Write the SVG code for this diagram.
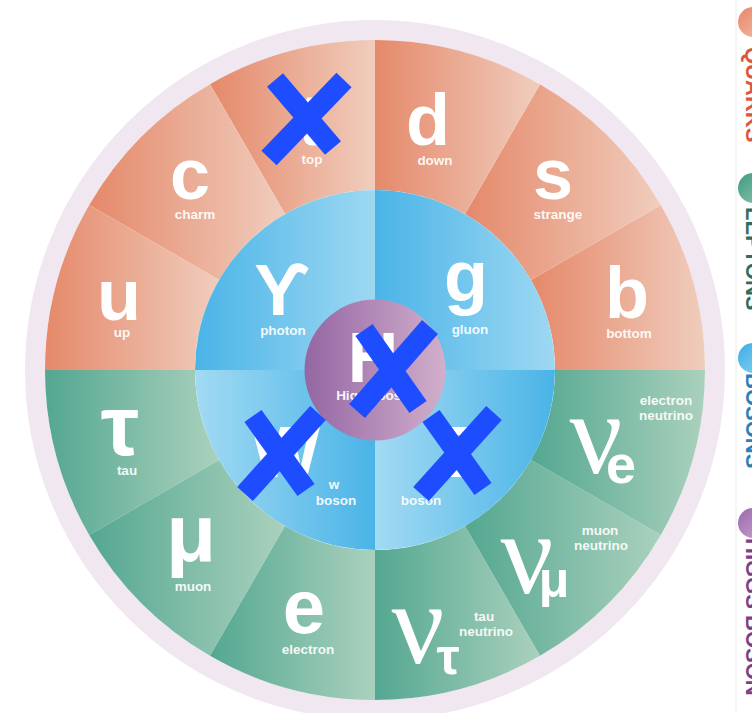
<svg xmlns="http://www.w3.org/2000/svg" width="752" height="713" viewBox="0 0 752 713">
  <defs>
    <linearGradient id="gO" x1="0" y1="0" x2="1" y2="0">
      <stop offset="0" stop-color="#E5896A"/>
      <stop offset="1" stop-color="#F0CDBD"/>
    </linearGradient>
    <linearGradient id="gG" x1="0" y1="0" x2="1" y2="0">
      <stop offset="0" stop-color="#54A791"/>
      <stop offset="1" stop-color="#AAD1BD"/>
    </linearGradient>
    <linearGradient id="gB" x1="0" y1="0" x2="1" y2="0">
      <stop offset="0" stop-color="#4AB4E7"/>
      <stop offset="1" stop-color="#9ED8F2"/>
    </linearGradient>
    <linearGradient id="gBr" x1="0" y1="0" x2="1" y2="0">
      <stop offset="0" stop-color="#A2DAF3"/>
      <stop offset="1" stop-color="#4AB4E7"/>
    </linearGradient>
    <linearGradient id="gP" x1="0" y1="0" x2="1" y2="0">
      <stop offset="0" stop-color="#9466A3"/>
      <stop offset="1" stop-color="#D2AFCC"/>
    </linearGradient>
    <linearGradient id="lO" x1="0" y1="0" x2="1" y2="1">
      <stop offset="0" stop-color="#E8866A"/>
      <stop offset="1" stop-color="#F2BDA6"/>
    </linearGradient>
    <linearGradient id="lG" x1="0" y1="0" x2="1" y2="1">
      <stop offset="0" stop-color="#3E9A80"/>
      <stop offset="1" stop-color="#8FC6B0"/>
    </linearGradient>
    <linearGradient id="lB" x1="0" y1="0" x2="1" y2="1">
      <stop offset="0" stop-color="#38AEE6"/>
      <stop offset="1" stop-color="#90D3F1"/>
    </linearGradient>
    <linearGradient id="lP" x1="0" y1="0" x2="1" y2="1">
      <stop offset="0" stop-color="#9A68AE"/>
      <stop offset="1" stop-color="#C9A5CD"/>
    </linearGradient>
  </defs>
  <style>
    .sym { font-family: 'Liberation Sans', Arial, sans-serif; font-weight: bold; font-size: 72px; fill: #ffffff; text-anchor: middle; }
    .lab { font-family: 'Liberation Sans', Arial, sans-serif; font-weight: bold; font-size: 13.5px; fill: #ffffff; fill-opacity: 0.92; text-anchor: middle; }
    .nu { font-family: 'Liberation Serif', 'Times New Roman', serif; font-size: 117px; fill: #ffffff; text-anchor: middle; }
    .sub { font-family: 'Liberation Sans', Arial, sans-serif; font-weight: bold; fill: #ffffff; text-anchor: middle; }
    .q { fill: url(#gO); }
    .l { fill: url(#gG); }
    .x { stroke: #1E4DFF; stroke-width: 21; stroke-linecap: butt; fill: none; }
    .leg { font-family: 'Liberation Sans', Arial, sans-serif; font-weight: bold; font-size: 22px; }
  </style>
  <rect width="752" height="713" fill="#ffffff"/>
  <line x1="736" y1="0" x2="736" y2="713" stroke="#F1F1F1" stroke-width="1.5"/>

  <!-- outer lavender ring -->
  <circle id="ring" cx="375" cy="370" r="340" fill="none" stroke="#F0E7F1" stroke-width="20"/>

  <!-- quarks -->
  <g id="quark-b"><path class="q" d="M705,370 A330,330 0 0 0 660.8,205 L530.9,280 A180,180 0 0 1 555,370 Z"/>
    <text class="sym" x="627" y="318">b</text><text class="lab" x="629" y="338">bottom</text></g>
  <g id="quark-s"><path class="q" d="M660.8,205 A330,330 0 0 0 540,84.2 L465,214.1 A180,180 0 0 1 530.9,280 Z"/>
    <text class="sym" x="553" y="199">s</text><text class="lab" x="558" y="219">strange</text></g>
  <g id="quark-d"><path class="q" d="M540,84.2 A330,330 0 0 0 375,40 L375,190 A180,180 0 0 1 465,214.1 Z"/>
    <text class="sym" x="428" y="145">d</text><text class="lab" x="435" y="165">down</text></g>
  <g id="quark-t"><path class="q" d="M375,40 A330,330 0 0 0 210,84.2 L285,214.1 A180,180 0 0 1 375,190 Z"/>
    <text class="sym" x="310" y="145">t</text><text class="lab" x="312" y="164">top</text></g>
  <g id="quark-c"><path class="q" d="M210,84.2 A330,330 0 0 0 89.2,205 L219.1,280 A180,180 0 0 1 285,214.1 Z"/>
    <text class="sym" x="190" y="199">c</text><text class="lab" x="195" y="219">charm</text></g>
  <g id="quark-u"><path class="q" d="M89.2,205 A330,330 0 0 0 45,370 L195,370 A180,180 0 0 1 219.1,280 Z"/>
    <text class="sym" x="119" y="320">u</text><text class="lab" x="122" y="337">up</text></g>

  <!-- leptons -->
  <g id="lepton-tau"><path class="l" d="M45,370 A330,330 0 0 0 89.2,535 L219.1,460 A180,180 0 0 1 195,370 Z"/>
    <text class="sym" x="120" y="455" style="font-size:86px">τ</text><text class="lab" x="127" y="475">tau</text></g>
  <g id="lepton-mu"><path class="l" d="M89.2,535 A330,330 0 0 0 210,655.8 L285,525.9 A180,180 0 0 1 219.1,460 Z"/>
    <text class="sym" x="191" y="561" style="font-size:82px">μ</text><text class="lab" x="193" y="591">muon</text></g>
  <g id="lepton-e"><path class="l" d="M210,655.8 A330,330 0 0 0 375,700 L375,550 A180,180 0 0 1 285,525.9 Z"/>
    <text class="sym" x="304" y="633" style="font-size:76px">e</text><text class="lab" x="308" y="654">electron</text></g>
  <g id="lepton-nutau"><path class="l" d="M375,700 A330,330 0 0 0 540,655.8 L465,525.9 A180,180 0 0 1 375,550 Z"/>
    <text class="nu" x="418" y="663">ν</text><text class="sub" x="448" y="674" style="font-size:52px">τ</text>
    <text class="lab" x="484" y="621">tau</text><text class="lab" x="486" y="636">neutrino</text></g>
  <g id="lepton-numu"><path class="l" d="M540,655.8 A330,330 0 0 0 660.8,535 L530.9,460 A180,180 0 0 1 465,525.9 Z"/>
    <text class="nu" x="527" y="593">ν</text><text class="sub" x="554" y="597" style="font-size:50px">μ</text>
    <text class="lab" x="600" y="535">muon</text><text class="lab" x="601" y="550">neutrino</text></g>
  <g id="lepton-nue"><path class="l" d="M660.8,535 A330,330 0 0 0 705,370 L555,370 A180,180 0 0 1 530.9,460 Z"/>
    <text class="nu" x="596" y="473">ν</text><text class="sub" x="621" y="483" style="font-size:54px">e</text>
    <text class="lab" x="666" y="405">electron</text><text class="lab" x="666" y="420">neutrino</text></g>

  <!-- bosons -->
  <g id="boson-photon"><path fill="url(#gB)" d="M375,370 L195,370 A180,180 0 0 1 375,190 Z"/>
    <text class="sym" x="282" y="315">ϒ</text><text class="lab" x="283" y="335">photon</text></g>
  <g id="boson-gluon"><path fill="url(#gB)" d="M375,370 L375,190 A180,180 0 0 1 555,370 Z"/>
    <text class="sym" x="466" y="301">g</text><text class="lab" x="470" y="334">gluon</text></g>
  <g id="boson-w"><path fill="url(#gBr)" d="M375,370 L375,550 A180,180 0 0 1 195,370 Z"/>
    <text class="sym" x="286" y="477">W</text><text class="lab" x="334" y="489">w</text><text class="lab" x="336" y="505">boson</text></g>
  <g id="boson-z"><path fill="url(#gBr)" d="M375,370 L555,370 A180,180 0 0 1 375,550 Z"/>
    <text class="sym" x="460" y="477">Z</text><text class="lab" x="420" y="489">z</text><text class="lab" x="421" y="505">boson</text></g>

  <!-- higgs -->
  <g id="higgs"><circle cx="375" cy="370" r="70.5" fill="url(#gP)"/>
    <text class="sym" x="373" y="382" style="font-size:70px">H</text><text class="lab" x="377" y="400">Higgs boson</text></g>

  <!-- blue cross marks -->
  <g id="marks">
    <line class="x" x1="275" y1="80" x2="333" y2="148"/><line class="x" x1="344" y1="80" x2="269" y2="158"/>
    <line class="x" x1="364" y1="330" x2="418" y2="407"/><line class="x" x1="430" y1="327" x2="357" y2="411"/>
    <line class="x" x1="253" y1="416" x2="306" y2="490"/><line class="x" x1="318" y1="413" x2="245" y2="494"/>
    <line class="x" x1="431" y1="416" x2="483" y2="489"/><line class="x" x1="494" y1="413" x2="421" y2="494"/>
  </g>

  <!-- legend -->
  <g id="legend-quarks"><circle cx="753" cy="22" r="15" fill="url(#lO)"/>
    <text class="leg" fill="#E0553C" transform="translate(746,47) rotate(90)">QUARKS</text></g>
  <g id="legend-leptons"><circle cx="753" cy="188" r="15" fill="url(#lG)"/>
    <text class="leg" fill="#2D6E5E" transform="translate(746,207) rotate(90)">LEPTONS</text></g>
  <g id="legend-bosons"><circle cx="753" cy="358" r="15" fill="url(#lB)"/>
    <text class="leg" fill="#2A80B9" transform="translate(746,373) rotate(90)">BOSONS</text></g>
  <g id="legend-higgs"><circle cx="753" cy="523" r="15" fill="url(#lP)"/>
    <text class="leg" fill="#7D3F88" transform="translate(746,538) rotate(90)">HIGGS BOSON</text></g>
  <g id="connectors"/>
</svg>
